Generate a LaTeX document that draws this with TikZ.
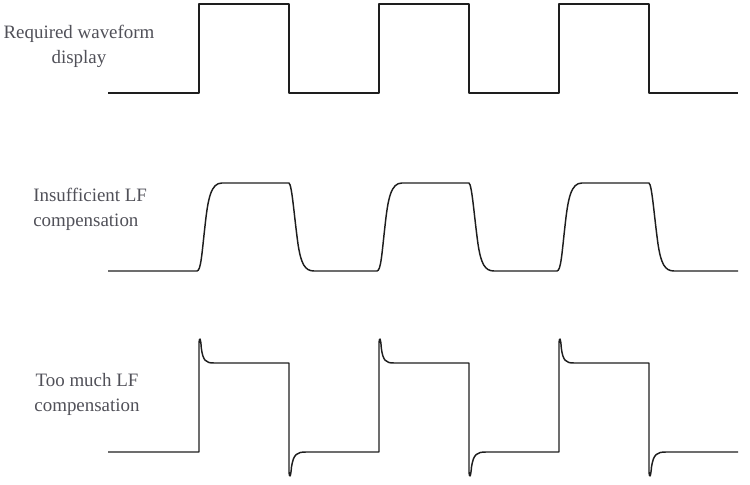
\documentclass[tikz,border=0pt]{standalone}
\usepackage{fontspec}
\setmainfont{Liberation Serif}
\definecolor{labelgray}{RGB}{80,80,88}
\definecolor{wave}{RGB}{30,30,30}
\begin{document}
\begin{tikzpicture}[x=0.75pt,y=-0.75pt,
  lbl/.style={font=\fontsize{14.2}{18.75}\selectfont, text=labelgray, inner sep=0pt},
  wv/.style={draw=wave, line width=1.1pt, line join=round}]
\useasboundingbox (0,0) rectangle (750,485);
% labels (base anchor = baseline of last line)
\node[lbl, align=center, anchor=base] (l1) at (79,64) {Required waveform\\display};
\node[lbl, align=left, anchor=base west] (l2) at (33,226.5) {Insufficient LF\\compensation};
\node[lbl, align=center, anchor=base] (l3) at (87,411) {Too much LF\\compensation};
% required waveform
\draw[wv] (108,93) \foreach \o in {0,180,360} {
  -- ({199+\o},93) -- ({199+\o},4) -- ({289+\o},4) -- ({289+\o},93)
} -- (738,93);
% insufficient LF compensation
\draw[wv] (108,271) \foreach \o in {0,180,360} {
  -- ({197+\o},271) .. controls ({201+\o},271) and ({202+\o},252) .. ({205+\o},226)
  .. controls ({208+\o},198) and ({211+\o},183) .. ({222+\o},183)
  -- ({289+\o},183) .. controls ({292+\o},185) and ({294+\o},215) .. ({298+\o},244)
  .. controls ({301+\o},264) and ({305+\o},271) .. ({314+\o},271)
} -- (738,271);
% too much LF compensation
\draw[wv] (108,452) \foreach \o in {0,180,360} {
  -- ({199+\o},452) -- ({199+\o},343)
  .. controls ({199.4+\o},337) and ({200.6+\o},337) .. ({201.3+\o},348)
  .. controls ({203+\o},361) and ({206+\o},363) .. ({214+\o},363)
  -- ({289+\o},363) -- ({289+\o},472)
  .. controls ({289.4+\o},478) and ({290.6+\o},478) .. ({291.5+\o},467)
  .. controls ({293.5+\o},454) and ({297+\o},452) .. ({306+\o},452)
} -- (738,452);
\end{tikzpicture}
\end{document}
